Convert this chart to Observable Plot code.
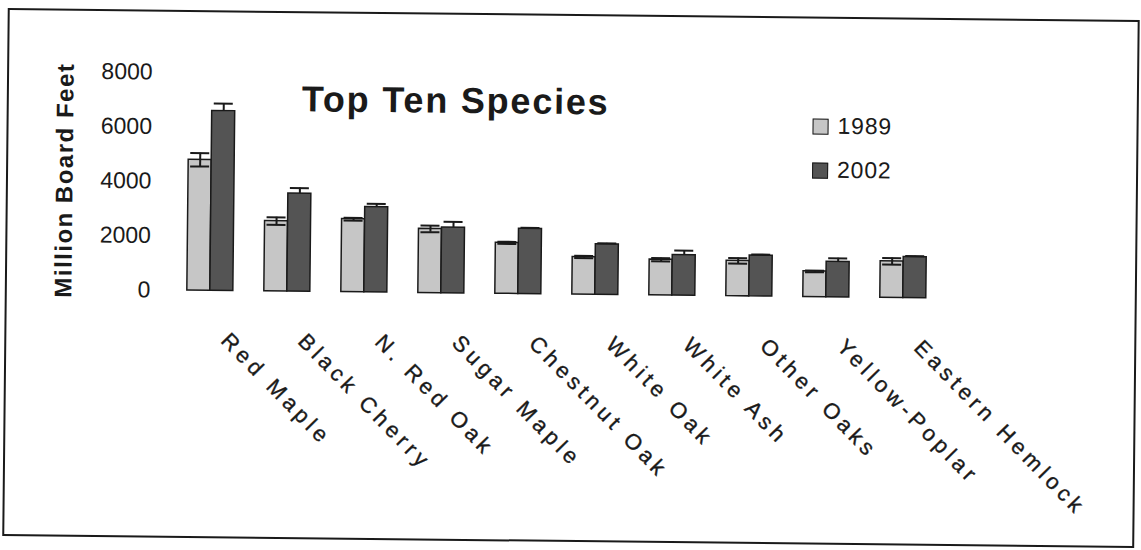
<!DOCTYPE html>
<html><head><meta charset="utf-8">
<script src="https://cdn.jsdelivr.net/npm/d3@7"></script>
<script src="https://cdn.jsdelivr.net/npm/@observablehq/plot@0.6"></script>
<style>
html,body{margin:0;padding:0;background:#fff;}
#wrap{position:relative;width:1141px;height:550px;overflow:hidden;background:#fff;}
#rot{position:absolute;left:0;top:0;width:1141px;height:550px;transform:rotate(0.6deg);transform-origin:570.5px 275px;font-family:"Liberation Sans",Arial,Helvetica,sans-serif;color:#1a1a1a;}
#frame{position:absolute;left:5px;top:14px;width:1128px;height:524px;border:2px solid #1a1a1a;}
#chart{position:absolute;left:0;top:0;}
#title{position:absolute;left:300px;top:83.5px;font-size:36px;line-height:36px;font-weight:bold;letter-spacing:1.8px;white-space:nowrap;}
.sw{position:absolute;width:14px;height:14px;border:1.5px solid #1a1a1a;}
.lt{position:absolute;font-size:23px;line-height:23px;letter-spacing:0.8px;white-space:nowrap;}
svg [aria-label="fx-axis tick label"] text{letter-spacing:4.5px;stroke:#1a1a1a;stroke-width:0.35px;}
svg [aria-label="y-axis label"] text{font-size:24px;font-weight:bold;letter-spacing:1.5px;}
</style>
</head><body>
<div id="wrap"><div id="rot">
<div id="frame"></div>
<div id="chart"></div>
<div id="title"></div>
<div id="legend"></div>
</div></div>
<script>
const species = ["Red Maple","Black Cherry","N. Red Oak","Sugar Maple","Chestnut Oak","White Oak","White Ash","Other Oaks","Yellow-Poplar","Eastern Hemlock"];
const years = ["1989","2002"];
const v1989 = [4800, 2580, 2680, 2350, 1870, 1380, 1310, 1300, 940, 1340];
const v2002 = [6600, 3600, 3130, 2410, 2390, 1850, 1490, 1500, 1300, 1500];
const e1989 = [245, 140, 50, 120, 40, 40, 60, 100, 30, 120];
const e2002 = [270, 200, 120, 210, 40, 40, 160, 40, 130, 40];
const yTicks = [0, 2000, 4000, 6000, 8000];
const titleText = "Top Ten Species";
const yLabel = "Million Board Feet";
const colors = ["#c6c6c6", "#545454"];

const data = species.flatMap((s, i) => [
  {species: s, year: years[0], value: v1989[i], err: e1989[i]},
  {species: s, year: years[1], value: v2002[i], err: e2002[i]}
]);

const ink = "#1a1a1a";
const chart = Plot.plot({
  width: 1141,
  height: 550,
  marginTop: 76,
  marginBottom: 256,
  marginLeft: 156,
  marginRight: 184,
  style: {background: "transparent", fontFamily: "'Liberation Sans', Arial, sans-serif", color: ink},
  fx: {domain: species, paddingInner: 0.4, paddingOuter: 0.4},
  x: {domain: years, padding: 0, axis: null},
  y: {domain: [0, 8000]},
  color: {domain: years, range: colors},
  marks: [
    Plot.axisY({ticks: yTicks, tickFormat: d3.format("d"), tickSize: 0, tickPadding: 6, fontSize: 23, dx: -31,
      label: yLabel, labelAnchor: "center", labelArrow: "none", labelOffset: 133}),
    Plot.axisFx({anchor: "bottom", tickRotate: 45, tickSize: 0, fontSize: 22, label: null, dx: 15, dy: 34}),
    Plot.barY(data, {fx: "species", x: "year", y: "value", fill: "year", stroke: ink, strokeWidth: 1.5}),
    Plot.ruleX(data, {fx: "species", x: "year", y1: d => d.year === years[0] ? d.value - d.err : d.value, y2: d => d.value + d.err, stroke: ink, strokeWidth: 2}),
    Plot.tickY(data, {fx: "species", x: "year", y: d => d.value + d.err, stroke: ink, strokeWidth: 2, inset: 2}),
    Plot.tickY(data.filter(d => d.year === years[0]), {fx: "species", x: "year", y: d => d.value - d.err, stroke: ink, strokeWidth: 2, inset: 2})
  ]
});
document.getElementById("chart").appendChild(chart);
document.getElementById("title").textContent = titleText;

const legend = document.getElementById("legend");
const legTops = [115.5, 159.5];
years.forEach((y, i) => {
  const sw = document.createElement("div");
  sw.className = "sw";
  sw.style.left = "811px";
  sw.style.top = legTops[i] + "px";
  sw.style.background = colors[i];
  legend.appendChild(sw);
  const t = document.createElement("div");
  t.className = "lt";
  t.style.left = "836px";
  t.style.top = (legTops[i] - 3.5) + "px";
  t.textContent = y;
  legend.appendChild(t);
});
</script>
</body></html>
